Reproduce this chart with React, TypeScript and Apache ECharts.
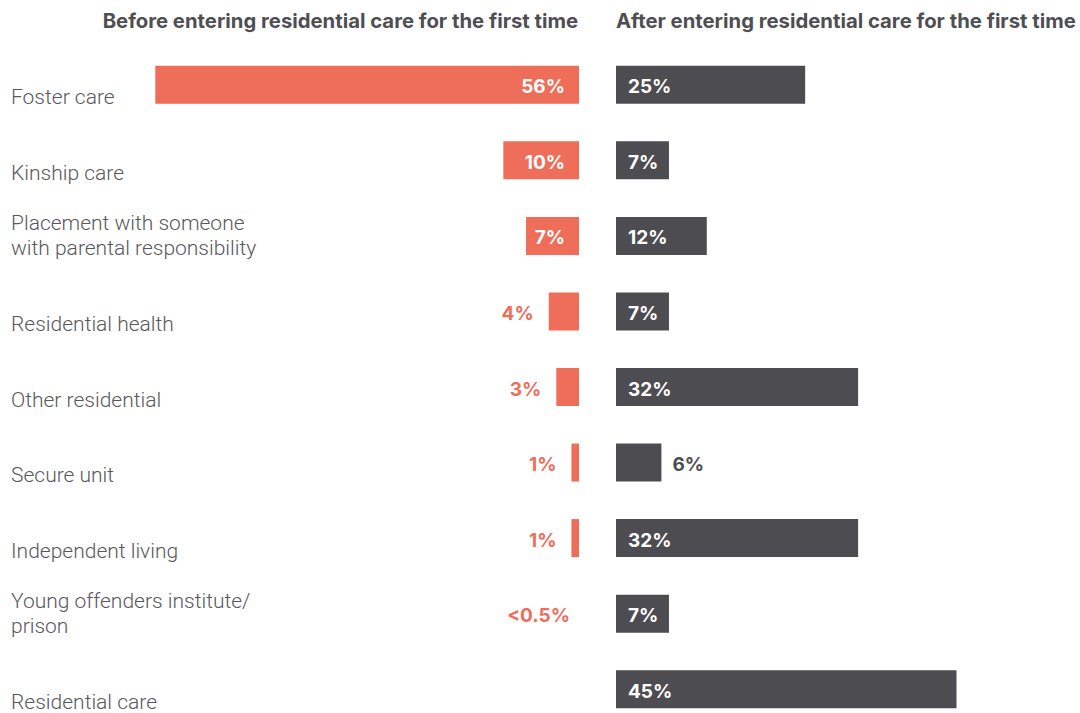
import React, { useEffect, useRef } from "react";
import * as echarts from "echarts";

const categories = [
  "Foster care",
  "Kinship care",
  "Placement with someone\nwith parental responsibility",
  "Residential health",
  "Other residential",
  "Secure unit",
  "Independent living",
  "Young offenders institute/\nprison",
  "Residential care",
];
const beforeValues: (number | null)[] = [56, 10, 7, 4, 3, 1, 1, 0, null];
const beforeLabels = ["56%", "10%", "7%", "4%", "3%", "1%", "1%", "<0.5%", ""];
const afterValues = [25, 7, 12, 7, 32, 6, 32, 7, 45];
const afterLabels = ["25%", "7%", "12%", "7%", "32%", "6%", "32%", "7%", "45%"];
const titles = [
  "Before entering residential care for the first time",
  "After entering residential care for the first time",
];

const CORAL = "#EE6E5A";
const DARK = "#4D4C51";
const TEXT = "#58585C";

export default function App() {
  const ref = useRef<HTMLDivElement>(null);
  useEffect(() => {
    if (!ref.current) return;
    const chart = echarts.init(ref.current, null, { renderer: "svg" });
    const valueFont = { fontFamily: "Inter", fontWeight: 700, fontSize: 19 };
    const beforeData = beforeValues.map((v, i) => {
      if (v === null) return { value: null };
      const inside = v >= 7;
      return {
        value: v,
        label: {
          show: true,
          formatter: beforeLabels[i],
          position: inside ? "insideRight" : "left",
          distance: inside ? 14 : beforeLabels[i].startsWith("<") ? 9 : 15,
          offset: [0, 2],
          color: inside ? "#ffffff" : CORAL,
          ...valueFont,
        },
      };
    });
    const afterData = afterValues.map((v, i) => {
      const inside = v >= 7;
      return {
        value: v,
        label: {
          show: true,
          formatter: afterLabels[i],
          position: inside ? "insideLeft" : "right",
          distance: inside ? 12 : 11,
          offset: [0, 2],
          color: inside ? "#ffffff" : DARK,
          ...valueFont,
        },
      };
    });
    const gridTop = 47;
    const gridHeight = 680;
    const titleStyle = { fontFamily: "Inter", fontWeight: 700, fontSize: 20.3, color: "#4E4E53" };
    chart.setOption({
      animation: false,
      title: [
        { text: titles[0], right: 502, top: 10, padding: 0, textStyle: titleStyle },
        { text: titles[1], left: 616, top: 10, padding: 0, textStyle: titleStyle },
      ],
      grid: [
        { left: 125, width: 454, top: gridTop, height: gridHeight, containLabel: false },
        { left: 616, width: 454, top: gridTop, height: gridHeight, containLabel: false },
      ],
      xAxis: [
        { type: "value", gridIndex: 0, min: 0, max: 60, inverse: true, show: false },
        { type: "value", gridIndex: 1, min: 0, max: 60, show: false },
      ],
      yAxis: [
        {
          type: "category",
          gridIndex: 0,
          data: categories,
          inverse: true,
          position: "left",
          axisLine: { show: false, onZero: false },
          axisTick: { show: false },
          axisLabel: {
            align: "left",
            margin: 114,
            fontFamily: "Roboto",
            fontWeight: 300,
            fontSize: 21,
            lineHeight: 25,
            color: TEXT,
            formatter: (v: string) => (v.includes("\n") ? v : `{b|${v}}`),
            rich: {
              b: {
                fontFamily: "Roboto",
                fontWeight: 300,
                fontSize: 21,
                lineHeight: 25,
                color: TEXT,
                padding: [25, 0, 0, 0],
              },
            },
          },
        },
        {
          type: "category",
          gridIndex: 1,
          data: categories,
          inverse: true,
          show: false,
        },
      ],
      series: [
        {
          type: "bar",
          xAxisIndex: 0,
          yAxisIndex: 0,
          data: beforeData,
          barWidth: 38,
          itemStyle: { color: CORAL },
        },
        {
          type: "bar",
          xAxisIndex: 1,
          yAxisIndex: 1,
          data: afterData,
          barWidth: 38,
          itemStyle: { color: DARK },
        },
      ],
    });
    return () => chart.dispose();
  }, []);
  return (
    <div
      ref={ref}
      style={{ position: "fixed", left: 0, top: 0, width: 1080, height: 730, background: "#fff" }}
    />
  );
}
